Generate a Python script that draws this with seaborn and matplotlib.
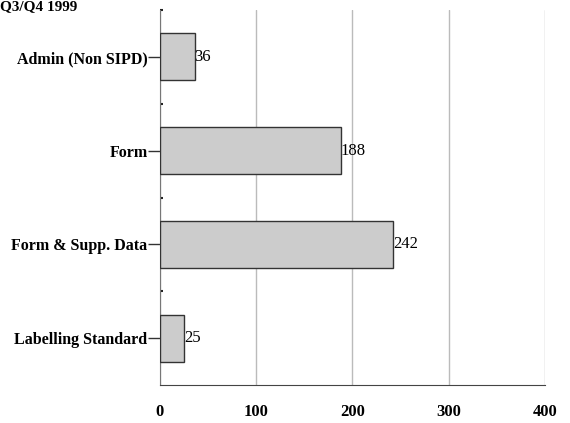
import matplotlib.pyplot as plt
import pandas as pd
import seaborn as sns

categories = ["Admin (Non SIPD)", "Form", "Form & Supp. Data", "Labelling Standard"]
counts = [36, 188, 242, 25]
x_ticks = [0, 100, 200, 300, 400]
title = "Q3/Q4 1999"

sns.set_style("white")
plt.rcParams["font.family"] = ["Liberation Serif", "DejaVu Serif"]
plt.rcParams["text.color"] = "black"
plt.rcParams["xtick.color"] = "black"
plt.rcParams["ytick.color"] = "black"

df = pd.DataFrame({"category": categories, "count": counts})

fig = plt.figure(figsize=(5.7, 4.23), dpi=100)
ax = fig.add_axes([0.2807, 0.0898, 0.6754, 0.8865])

sns.barplot(
    data=df,
    x="count",
    y="category",
    orient="h",
    color="#cccccc",
    saturation=1,
    width=0.5,
    edgecolor="#333333",
    linewidth=1,
    ax=ax,
    zorder=3,
)

for c in ax.containers:
    ax.bar_label(c, fmt="%d", padding=0, fontsize=12, color="black")

ax.set_xlim(0, 400)
ax.set_ylim(len(categories) - 0.5, -0.5)
ax.set_xticks(x_ticks)
ax.set_xticklabels([str(t) for t in x_ticks], fontsize=12, fontweight="bold")
ax.tick_params(axis="x", length=0, pad=14)
ax.set_yticks(range(len(categories)))
ax.set_yticklabels(categories, fontsize=11.5, fontweight="bold")
ax.tick_params(axis="y", which="both", left=True)
ax.tick_params(axis="y", which="major", length=9, width=1, color="#333333", pad=0)
# small marks between the categories, drawn just inside the axis
ax.set_yticks([i - 0.5 for i in range(len(categories))], minor=True)
ax.tick_params(axis="y", which="minor", direction="in", length=2, width=1.5, color="#222222")
ax.set_xlabel("")
ax.set_ylabel("")

ax.grid(axis="x", color="#bbbbbb", linewidth=1, zorder=0)
ax.set_axisbelow(True)
for side in ["top", "right"]:
    ax.spines[side].set_visible(False)
ax.spines["left"].set_color("#777777")
ax.spines["bottom"].set_color("#444444")

fig.text(0.0, 1.0, title, fontsize=11, fontweight="bold", ha="left", va="top")

fig.savefig("out.png", dpi=100)
